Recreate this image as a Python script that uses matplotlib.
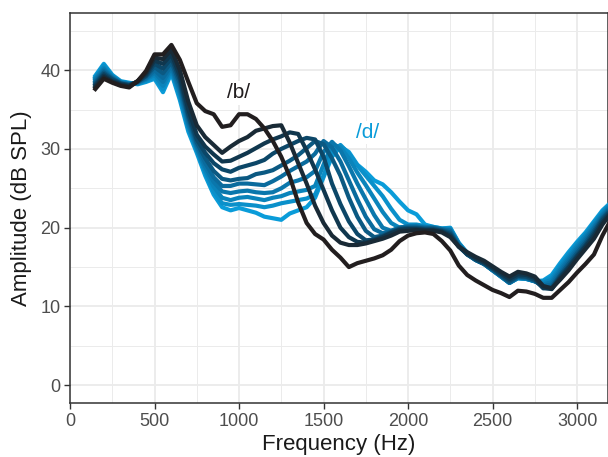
import numpy as np
import matplotlib.pyplot as plt
from matplotlib.ticker import MultipleLocator
from matplotlib.colors import LinearSegmentedColormap

plt.rcParams['font.family'] = ['Liberation Sans', 'DejaVu Sans']

# frequency grid (Hz) the spectra are read at
freq = np.arange(150, 3201, 50)

# continuum step 1 (/b/) ... step 10 (/d/), amplitude in dB SPL
step_1 = [37.6, 38.9, 38.4, 38.0, 37.8, 38.6, 39.9, 42.0, 42.0, 43.2,
          41.3, 38.5, 35.8, 34.8, 34.4, 32.8, 33.0, 34.4,
          34.4, 33.8, 32.6, 31.0, 29.0, 26.5, 23.2, 20.6, 19.2, 18.5, 17.2, 16.2, 15.0, 15.5, 15.8, 16.1, 16.5, 17.2, 18.3, 19.0, 19.3, 19.4,
          19.2, 18.3, 17.1, 15.2, 14.0, 13.3, 12.7, 12.1, 11.7, 11.2, 12.0, 11.9, 11.6, 11.1, 11.1, 12.1, 13.1, 14.3, 15.4, 16.6, 19.0, 21.0]
step_2 = [37.8, 39.1, 38.5, 38.1, 37.9, 38.6, 39.7, 41.6, 41.4, 42.6,
          40.0, 36.0, 33.0, 31.5, 30.5, 29.5, 30.3, 31.0,
          31.5, 32.3, 32.6, 32.9, 33.0, 30.8, 28.2, 25.6, 22.8, 20.6, 19.0, 18.1, 17.8, 17.8, 18.0, 18.3, 18.6, 19.0, 19.5, 19.6, 19.7, 19.6,
          19.6, 19.4, 18.8, 17.6, 16.9, 16.3, 15.8, 15.1, 14.4, 13.8, 14.4, 14.2, 13.8, 12.6, 12.3, 13.4, 14.6, 16.0, 17.3, 18.6, 20.4, 21.8]
step_3 = [38.0, 39.3, 38.6, 38.2, 38.0, 38.6, 39.5, 41.2, 40.8, 42.0,
          39.3, 35.0, 31.8, 30.3, 29.3, 28.4, 28.5, 29.0,
          29.5, 30.1, 30.7, 31.2, 31.6, 32.1, 31.9, 29.8, 27.4, 24.8, 22.2, 20.0, 18.8, 18.2, 18.1, 18.4, 18.8, 19.3, 19.7, 19.8, 19.8, 19.7,
          19.7, 19.5, 19.0, 17.6, 16.7, 16.1, 15.6, 14.9, 14.2, 13.5, 14.1, 14.0, 13.6, 12.4, 12.2, 13.6, 14.9, 16.3, 17.6, 19.0, 20.7, 22.0]
step_4 = [38.2, 39.5, 38.8, 38.3, 38.1, 38.5, 39.3, 40.8, 40.2, 41.5,
          38.8, 34.4, 31.2, 29.5, 28.2, 27.4, 27.1, 27.6,
          27.9, 28.2, 28.6, 29.4, 30.0, 30.5, 31.0, 31.4, 31.2, 29.0, 25.6, 23.0, 20.8, 19.2, 18.4, 18.5, 18.9, 19.4, 19.8, 19.9, 19.9, 19.8,
          19.8, 19.6, 19.2, 17.6, 16.6, 16.0, 15.5, 14.8, 14.0, 13.3, 13.9, 13.8, 13.4, 12.3, 12.3, 13.8, 15.1, 16.5, 17.8, 19.3, 21.0, 22.2]
step_5 = [38.4, 39.7, 38.9, 38.3, 38.1, 38.5, 39.2, 40.4, 39.6, 41.0,
          38.3, 34.0, 30.8, 28.8, 27.2, 26.2, 26.0, 26.2,
          26.3, 26.8, 27.0, 27.3, 27.9, 28.5, 29.2, 30.1, 31.0, 30.6, 28.8, 26.6, 23.8, 21.4, 19.6, 18.8, 19.0, 19.5, 19.9, 20.0, 20.0, 19.9,
          19.9, 19.7, 19.4, 17.7, 16.6, 15.9, 15.4, 14.7, 13.9, 13.1, 13.8, 13.7, 13.3, 12.4, 12.5, 14.0, 15.4, 16.8, 18.1, 19.6, 21.2, 22.4]
step_6 = [38.6, 39.9, 39.0, 38.4, 38.2, 38.4, 39.0, 40.0, 39.0, 40.6,
          37.8, 33.6, 30.5, 28.2, 26.4, 25.3, 25.3, 25.6,
          25.6, 25.5, 25.4, 25.9, 26.5, 27.2, 27.8, 28.4, 29.4, 31.0, 30.2, 28.4, 26.0, 23.6, 21.4, 19.8, 19.3, 19.6, 20.0, 20.1, 20.1, 20.0,
          20.0, 19.8, 19.6, 17.8, 16.6, 15.9, 15.4, 14.6, 13.9, 13.0, 13.7, 13.6, 13.2, 12.6, 12.8, 14.3, 15.7, 17.1, 18.4, 19.9, 21.4, 22.6]
step_7 = [38.8, 40.1, 39.1, 38.4, 38.2, 38.4, 38.9, 39.7, 38.5, 40.3,
          37.4, 33.2, 30.2, 27.7, 25.8, 24.6, 24.4, 24.6,
          24.7, 24.5, 24.4, 24.5, 25.0, 25.7, 26.0, 26.4, 27.2, 29.6, 30.9, 29.8, 27.8, 25.6, 23.6, 21.6, 20.0, 19.6, 20.0, 20.2, 20.2, 20.0,
          20.0, 19.8, 19.7, 17.9, 16.7, 15.9, 15.4, 14.6, 13.8, 13.0, 13.7, 13.6, 13.2, 12.8, 13.1, 14.6, 16.0, 17.4, 18.7, 20.1, 21.6, 22.8]
step_8 = [39.0, 40.3, 39.2, 38.5, 38.3, 38.3, 38.8, 39.4, 38.0, 40.0,
          37.0, 32.9, 30.0, 27.3, 25.2, 23.8, 23.5, 23.8,
          23.9, 23.7, 23.5, 23.8, 24.0, 24.4, 24.6, 24.8, 25.3, 28.0, 30.6, 30.2, 28.8, 27.0, 25.4, 23.7, 22.0, 20.6, 20.0, 20.2, 20.3, 20.1,
          20.0, 19.8, 19.8, 18.0, 16.7, 15.9, 15.4, 14.6, 13.8, 13.0, 13.6, 13.5, 13.2, 13.0, 13.4, 14.9, 16.3, 17.7, 19.0, 20.4, 21.8, 23.0]
step_9 = [39.1, 40.6, 39.3, 38.5, 38.3, 38.3, 38.6, 39.1, 37.6, 39.8,
          36.6, 32.6, 29.8, 27.0, 24.6, 23.1, 22.9, 23.0,
          22.9, 22.8, 22.6, 22.8, 23.1, 23.3, 23.5, 23.7, 24.2, 26.6, 29.6, 30.5, 29.4, 27.9, 26.6, 25.3, 24.0, 22.4, 21.0, 20.4, 20.4, 20.2,
          20.1, 19.9, 19.9, 18.0, 16.8, 16.0, 15.4, 14.6, 13.8, 13.0, 13.6, 13.5, 13.2, 13.2, 13.7, 15.2, 16.6, 18.0, 19.2, 20.6, 22.0, 23.1]
step_10 = [39.3, 40.8, 39.4, 38.6, 38.4, 38.2, 38.5, 38.9, 37.2, 39.6,
           36.2, 32.2, 29.5, 26.6, 24.2, 22.6, 22.2, 22.5,
           22.2, 21.9, 21.4, 21.2, 21.0, 21.8, 22.2, 22.6, 23.8, 26.4, 29.0, 30.3, 29.6, 28.0, 27.1, 26.0, 25.5, 24.5, 23.3, 22.2, 21.7, 20.4,
           20.1, 19.9, 20.0, 18.1, 16.8, 16.0, 15.4, 14.6, 13.8, 13.0, 13.6, 13.5, 13.2, 13.3, 14.0, 15.5, 16.9, 18.2, 19.4, 20.8, 22.2, 23.2]

steps = [step_1, step_2, step_3, step_4, step_5, step_6, step_7, step_8, step_9, step_10]

# black (/b/) to blue (/d/) ramp, mids kept saturated navy
ramp = LinearSegmentedColormap.from_list(
    'bd', [(0.0, '#221e1f'), (0.25, '#0d3a54'), (0.55, '#0a6a9c'), (1.0, '#0a9cd9')])

fig = plt.figure(figsize=(6.08, 4.57), dpi=100)
ax = fig.add_axes([70 / 608, 1 - 403 / 457, 538 / 608, 390 / 457])

# draw /d/ end first so /b/ sits on top
for i in reversed(range(len(steps))):
    c = ramp(i / (len(steps) - 1))
    ax.plot(freq, steps[i], color=c, lw=3.0, solid_joinstyle='round', zorder=3)

ax.text(994, 37.1, '/b/', color='#221e1f', fontsize=15, ha='center', va='center',
        bbox=dict(facecolor='white', edgecolor='none', pad=1.5), zorder=4)
ax.text(1763, 32.1, '/d/', color='#0a9cd9', fontsize=15, ha='center', va='center',
        bbox=dict(facecolor='white', edgecolor='none', pad=1.5), zorder=4)

ax.set_xlim(0, 3183)
ax.set_ylim(-2.25, 47.25)
ax.xaxis.set_major_locator(MultipleLocator(500))
ax.xaxis.set_minor_locator(MultipleLocator(250))
ax.yaxis.set_major_locator(MultipleLocator(10))
ax.yaxis.set_minor_locator(MultipleLocator(5))
ax.grid(which='major', color='#ebebeb', lw=1.3, zorder=0)
ax.grid(which='minor', color='#ebebeb', lw=0.7, zorder=0)
ax.set_axisbelow(True)

for s in ax.spines.values():
    s.set_color('#333333')
    s.set_linewidth(1.1)
ax.tick_params(which='major', length=4, width=1, color='#333333',
               labelsize=13, labelcolor='#4d4d4d', pad=3)
ax.tick_params(which='minor', length=0)

ax.set_xlabel('Frequency (Hz)', fontsize=16, color='#1a1a1a', labelpad=3)
ax.set_ylabel('Amplitude (dB SPL)', fontsize=16, color='#1a1a1a', labelpad=6)

fig.savefig('out.png', dpi=100)
